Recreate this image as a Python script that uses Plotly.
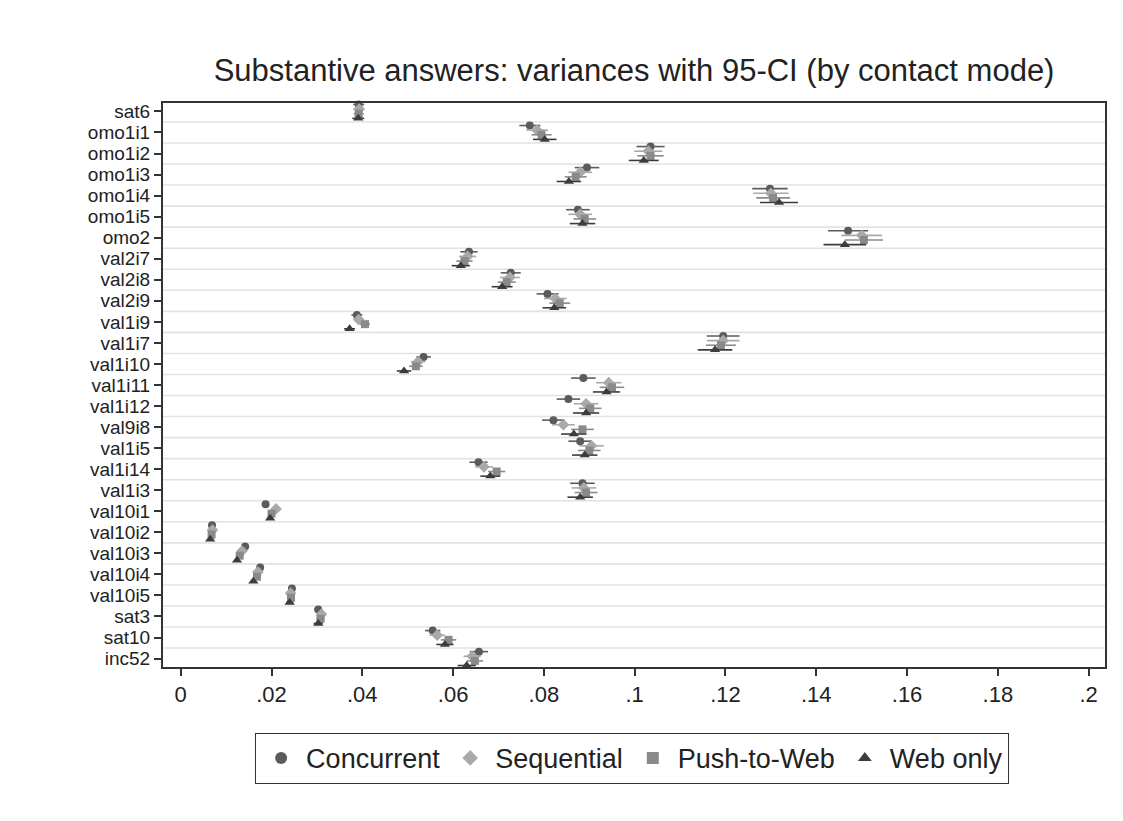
import plotly.graph_objects as go

# Items, listed top to bottom
items = ["sat6", "omo1i1", "omo1i2", "omo1i3", "omo1i4", "omo1i5", "omo2",
         "val2i7", "val2i8", "val2i9", "val1i9", "val1i7", "val1i10", "val1i11",
         "val1i12", "val9i8", "val1i5", "val1i14", "val1i3", "val10i1", "val10i2",
         "val10i3", "val10i4", "val10i5", "sat3", "sat10", "inc52"]

# Variance estimates per contact mode
var_concurrent = [.0392, .0769, .1035, .0895, .1298, .0875, .1470, .0635, .0727, .0808,
                  .0388, .1195, .0535, .0887, .0854, .0821, .0880, .0656, .0885, .0187,
                  .0069, .0142, .0175, .0245, .0303, .0555, .0657]
var_sequential = [.0393, .0785, .1030, .0880, .1300, .0880, .1500, .0632, .0725, .0825,
                  .0392, .1195, .0523, .0943, .0893, .0843, .0905, .0668, .0888, .0210,
                  .0070, .0135, .0170, .0242, .0310, .0565, .0642]
var_push = [.0392, .0795, .1035, .0870, .1305, .0890, .1505, .0625, .0718, .0835,
            .0406, .1190, .0518, .0950, .0902, .0885, .0900, .0696, .0893, .0200,
            .0068, .0130, .0168, .0243, .0308, .0590, .0648]
var_web = [.0391, .0802, .1020, .0855, .1318, .0885, .1463, .0617, .0708, .0823,
           .0372, .1177, .0492, .0938, .0893, .0866, .0890, .0682, .0880, .0197,
           .0065, .0124, .0160, .0240, .0303, .0582, .0630]

# Half-widths of the 95% confidence intervals
ci_concurrent = [.0012, .0023, .0031, .0027, .0039, .0026, .0044, .0019, .0022, .0024,
                 .0012, .0036, .0016, .0027, .0026, .0025, .0026, .0020, .0027, .0006,
                 .0002, .0004, .0005, .0007, .0009, .0017, .0020]
ci_sequential = [.0012, .0024, .0031, .0026, .0039, .0026, .0045, .0019, .0022, .0025,
                 .0012, .0036, .0016, .0028, .0027, .0025, .0027, .0020, .0027, .0006,
                 .0002, .0004, .0005, .0007, .0009, .0017, .0019]
ci_push = [.0011, .0022, .0029, .0024, .0037, .0025, .0042, .0018, .0020, .0023,
           .0011, .0033, .0015, .0027, .0025, .0025, .0025, .0019, .0025, .0006,
           .0002, .0004, .0005, .0007, .0009, .0017, .0018]
ci_web = [.0013, .0026, .0033, .0027, .0042, .0028, .0047, .0020, .0023, .0026,
          .0012, .0038, .0016, .0030, .0029, .0028, .0028, .0022, .0028, .0006,
          .0002, .0004, .0005, .0008, .0010, .0019, .0020]

x_ticks = [0, .02, .04, .06, .08, .1, .12, .14, .16, .18, .2]
x_labels = ["0", ".02", ".04", ".06", ".08", ".1", ".12", ".14", ".16", ".18", ".2"]

series = [
    ("Concurrent", var_concurrent, ci_concurrent, "circle", "#5b5b5b", -0.33, 8),
    ("Sequential", var_sequential, ci_sequential, "diamond", "#a9a9a9", -0.11, 9),
    ("Push-to-Web", var_push, ci_push, "square", "#8a8a8a", 0.11, 8),
    ("Web only", var_web, ci_web, "triangle-up", "#3c3c3c", 0.33, 9),
]

fig = go.Figure()
rows = list(range(len(items)))

for name, vals, ci, symbol, color, offset, size in series:
    fig.add_trace(go.Scatter(
        x=vals,
        y=[r + offset for r in rows],
        mode="markers",
        name=name,
        marker=dict(symbol=symbol, size=size, color=color, line=dict(width=0)),
        error_x=dict(type="data", array=ci, visible=True, color=color,
                     thickness=1.6, width=0),
        cliponaxis=False,
    ))

# Horizontal separators between items
shapes = []
for k in range(len(items) - 1):
    shapes.append(dict(type="line", xref="paper", x0=0, x1=1, yref="y",
                       y0=k + 0.5, y1=k + 0.5,
                       line=dict(color="#e2e2e2", width=1.6), layer="below"))

font_family = "Liberation Sans, Arial, sans-serif"

fig.update_layout(
    width=1123, height=821,
    paper_bgcolor="white", plot_bgcolor="white",
    margin=dict(l=163, r=18, t=103, b=154),
    title=dict(text="Substantive answers: variances with 95-CI (by contact mode)",
               x=0.5646, xanchor="center", y=0.915, yanchor="middle",
               font=dict(family=font_family, size=31, color="#222222")),
    font=dict(family=font_family, color="#222222"),
    shapes=shapes,
    showlegend=True,
    legend=dict(orientation="h", x=0.498, xanchor="center", y=-0.162, yanchor="middle",
                bordercolor="#333333", borderwidth=1, bgcolor="white",
                font=dict(family=font_family, size=27, color="#222222"),
                itemsizing="constant", itemwidth=40, traceorder="normal"),
    xaxis=dict(range=[-0.0039, 0.2036], tickmode="array", tickvals=x_ticks,
               ticktext=x_labels, showgrid=False, zeroline=False,
               ticks="outside", ticklen=7, tickwidth=1.5, tickcolor="#333333",
               tickfont=dict(size=22, color="#222222"),
               showline=True, linecolor="#333333", linewidth=2, mirror=True),
    yaxis=dict(range=[len(items) - 1 + 0.4, -0.4], tickmode="array",
               tickvals=rows, ticktext=items, showgrid=False, zeroline=False,
               ticks="outside", ticklen=7, tickwidth=1.5, tickcolor="#333333",
               tickfont=dict(size=19, color="#222222"),
               showline=True, linecolor="#333333", linewidth=2, mirror=True),
)

fig.write_html("out.html")
